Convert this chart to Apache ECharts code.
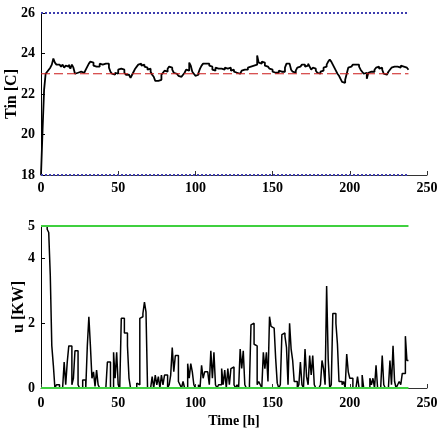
<!DOCTYPE html>
<html>
<head>
<meta charset="utf-8">
<script src="https://cdn.jsdelivr.net/npm/echarts@6/dist/echarts.min.js"></script>
<style>
  html, body { margin: 0; padding: 0; background: #fff; }
  #main { width: 439px; height: 436px; }
</style>
</head>
<body>
<div id="main"></div>
<script>
// indoor temperature, hourly samples [C]
const tin = [
  18.0, 20.2, 22.2, 23.0, 23.1, 23.2, 23.3, 23.45, 23.75, 23.55,
  23.45, 23.45, 23.4, 23.35, 23.45, 23.3, 23.4, 23.35, 23.45, 23.25,
  23.45, 23.3, 23.0, 23.05, 23.0, 23.1, 23.15, 23.05, 23.1, 23.2,
  23.35, 23.5, 23.6, 23.55, 23.4, 23.35, 23.3, 23.35, 23.5, 23.45,
  23.5, 23.5, 23.45, 23.5, 23.3, 23.1, 23.0, 22.95, 23.05, 23.0,
  23.2, 23.25, 23.3, 23.2, 23.05, 22.95, 22.95, 23.0, 22.8, 22.95,
  23.1, 23.25, 23.35, 23.45, 23.5, 23.4, 23.45, 23.35, 23.3, 23.2,
  23.25, 23.1, 22.95, 22.85, 22.65, 22.65, 22.65, 22.7, 22.95, 23.05,
  23.15, 23.1, 23.25, 23.35, 23.3, 23.2, 23.05, 23.0, 22.95, 22.9,
  22.85, 22.85, 22.95, 23.05, 23.2, 23.15, 23.55, 23.4, 23.1, 23.0,
  22.9, 22.95, 23.05, 23.25, 23.4, 23.5, 23.5, 23.45, 23.5, 23.4,
  23.35, 23.2, 23.15, 23.3, 23.25, 23.2, 23.25, 23.3, 23.2, 23.3,
  23.25, 23.2, 23.3, 23.15, 23.2, 23.1, 23.05, 23.0, 23.0, 23.05,
  23.15, 23.2, 23.15, 23.2, 23.3, 23.35, 23.3, 23.4, 23.35, 23.45,
  23.9, 23.55, 23.5, 23.6, 23.55, 23.4, 23.35, 23.3, 23.25, 23.2,
  23.1, 23.05, 23.1, 23.05, 23.15, 23.1, 23.15, 23.1, 23.3, 23.5,
  23.5, 23.45, 23.2, 23.1, 23.05, 23.15, 23.3, 23.35, 23.4, 23.45,
  23.45, 23.35, 23.4, 23.5, 23.35, 23.2, 23.3, 23.25, 23.15, 23.05,
  23.0, 23.1, 23.15, 23.3, 23.35, 23.45, 23.6, 23.7, 23.6, 23.45,
  23.3, 23.15, 23.0, 22.9, 22.75, 22.6, 22.55, 22.7, 23.0, 23.3,
  23.35, 23.4, 23.45, 23.45, 23.4, 23.45, 23.35, 23.2, 23.1, 23.0,
  23.05, 22.75, 23.05, 23.1, 23.15, 23.1, 23.2, 23.3, 23.35, 23.25,
  23.3, 23.2, 23.0, 22.95, 23.0, 23.1, 23.2, 23.3, 23.35, 23.4,
  23.35, 23.4, 23.3, 23.4, 23.35, 23.4, 23.3, 23.25, 23.2
];

// heating power, hourly samples [KW]
const u = [
  5, 5, 5, 5, 4.9, 4.8, 3.5, 1.3, 0.7, 0,
  0.1, 0.1, 0, 0, 0, 0.8, 0.1, 0.8, 1.3, 1.3,
  0.1, 0.3, 1.15, 1.15, 0.1, 0, 0, 0.25, 0.25, 0,
  1.3, 2.2, 1.3, 0.3, 0.5, 0.05, 0.55, 0.1, 0, 0,
  0, 0, 0, 0.8, 0.8, 0, 0, 1.1, 0.3, 1.1,
  0.1, 0, 2.15, 2.15, 1.7, 1.7, 1.3, 0.3, 0, 0,
  0, 0, 0.15, 0.1, 2.15, 2.2, 2.3, 2.65, 2.35, 0,
  0, 0, 0.35, 0, 0.4, 0.1, 0.35, 0, 0.4, 0.1,
  0.4, 0.4, 0, 0.1, 0.4, 1.25, 0.5, 1.0, 1.0, 0.2,
  0.1, 0, 0.2, 0, 0, 0.75, 0.3, 0.75, 0.5, 0.1,
  0, 0, 0.1, 0, 0.7, 0.3, 0.5, 0.5, 0.45, 0.1,
  1.15, 0.3, 1.1, 0.1, 0, 0.1, 0.1, 0.6, 0.1, 0.55,
  0, 0.6, 0.1, 0.6, 0.65, 0.1, 0, 0.1, 0, 1.2,
  0.6, 1.15, 0.1, 0, 0, 0.1, 1.95, 2.0, 1.35, 1.3,
  0.1, 0.2, 0.1, 0, 1.1, 0.6, 1.1, 0.2, 2.2, 1.9,
  1.85, 1.85, 0.9, 0.15, 0, 0.1, 1.65, 1.7, 1.6, 1.25,
  0.1, 2.0, 1.2, 0.85, 0.2, 0.2, 0, 0.1, 0.8, 0.1,
  0, 1.2, 0.35, 0.1, 1.0, 0.4, 1.0, 0.1, 0, 0,
  0, 0.1, 0.85, 0.6, 0.1, 3.15, 0.9, 0, 0.1, 2.3,
  2.3, 2.0, 1.35, 0.2, 0.2, 0.1, 0.2, 0, 1.05, 0.5,
  0.3, 0.3, 0, 0, 0, 0.35, 0, 0, 0.4, 0,
  0, 0, 0, 0.3, 0.1, 0.3, 0, 0.7, 0, 0,
  0, 1.0, 0.1, 0, 0, 0, 0.85, 0.1, 1.3, 0.2,
  0, 0.1, 0.2, 0.1, 0.45, 0.45, 1.6, 0.85, 0.85
];

// comfort band / setpoint and actuator limits
const tinLimits = [18, 26];
const tinSetpoint = 23;
const uLimits = [0, 5];
const xTicks = [0, 250, 50];

const tEnd = tin.length - 1;
const toXY = arr => arr.map((v, i) => [i, v]);
const flat = v => [[0, v], [tEnd, v]];

const labelFont = { color: '#000', fontFamily: 'Liberation Serif', fontWeight: 'bold', fontSize: 14 };

function xAxis(idx, name) {
  return {
    type: 'value', gridIndex: idx, min: xTicks[0], max: xTicks[1], interval: xTicks[2],
    name: name, nameLocation: 'middle', nameGap: 26, nameMoveOverlap: false,
    nameTextStyle: labelFont,
    axisLine: { lineStyle: { color: '#333', width: 1 } },
    axisTick: { inside: true, length: 4, lineStyle: { color: '#333' } },
    axisLabel: Object.assign({ margin: idx ? 8 : 6 }, labelFont),
    splitLine: { show: false }
  };
}

function yAxis(idx, name, min, max, interval, gap) {
  return {
    type: 'value', gridIndex: idx, min: min, max: max, interval: interval,
    name: name, nameLocation: 'middle', nameGap: gap, nameMoveOverlap: false,
    nameTextStyle: Object.assign({}, labelFont, { fontSize: 16 }),
    axisLine: { show: true, lineStyle: { color: '#000', width: 1 } },
    axisTick: { show: true, inside: true, length: 4, lineStyle: { color: '#000' } },
    axisLabel: Object.assign({ margin: 6 }, labelFont),
    splitLine: { show: false }
  };
}

const chart = echarts.init(document.getElementById('main'));

chart.setOption({
  animation: false,
  backgroundColor: '#fff',
  grid: [
    { left: 41, top: 13, width: 386, height: 162, outerBoundsMode: 'none' },
    { left: 41, top: 226, width: 386, height: 162, outerBoundsMode: 'none' }
  ],
  xAxis: [xAxis(0, ''), xAxis(1, 'Time [h]')],
  yAxis: [
    yAxis(0, 'Tin [C]', tinLimits[0], tinLimits[1], 2, 21),
    yAxis(1, 'u [KW]', uLimits[0], uLimits[1], 2, 14)
  ],
  series: [
    {
      type: 'line', xAxisIndex: 0, yAxisIndex: 0, step: 'end', showSymbol: false,
      data: toXY(tin), lineStyle: { color: '#000', width: 1.8 }
    },
    {
      type: 'line', xAxisIndex: 0, yAxisIndex: 0, showSymbol: false,
      data: flat(tinSetpoint), lineStyle: { color: '#cc1a1a', width: 1.2, type: [9, 4] }
    },
    {
      type: 'line', xAxisIndex: 0, yAxisIndex: 0, showSymbol: false, clip: false,
      data: flat(tinLimits[1]), lineStyle: { color: '#3d3dae', width: 2, type: 'dotted' }
    },
    {
      type: 'line', xAxisIndex: 0, yAxisIndex: 0, showSymbol: false, clip: false,
      data: flat(tinLimits[0]), lineStyle: { color: '#3d3dae', width: 2, type: 'dotted' }
    },
    {
      type: 'line', xAxisIndex: 1, yAxisIndex: 1, step: 'end', showSymbol: false,
      data: toXY(u), lineStyle: { color: '#000', width: 1.5 }
    },
    {
      type: 'line', xAxisIndex: 1, yAxisIndex: 1, showSymbol: false, clip: false,
      data: flat(uLimits[1]), lineStyle: { color: '#3fd03f', width: 2 }
    },
    {
      type: 'line', xAxisIndex: 1, yAxisIndex: 1, showSymbol: false, clip: false,
      data: flat(uLimits[0]), lineStyle: { color: '#3fd03f', width: 2 }
    }
  ]
});
</script>
</body>
</html>
